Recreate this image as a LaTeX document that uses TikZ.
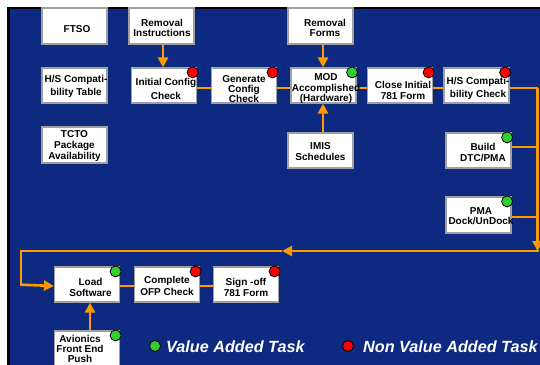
\documentclass[tikz,border=0pt]{standalone}
\usepackage{fontspec}
\setmainfont{Liberation Sans}
\usetikzlibrary{arrows.meta}
\definecolor{bg}{RGB}{14,42,128}
\definecolor{org}{RGB}{255,153,0}
\definecolor{grn}{RGB}{51,204,51}
\definecolor{rd}{RGB}{255,0,0}
\definecolor{bord}{RGB}{160,160,160}
\tikzset{
 box/.style={draw=bord, fill=white, line width=1.2pt, minimum width=65pt, minimum height=35pt, inner sep=0pt},
 lbl/.style={font=\fontsize{10}{#1}\selectfont\bfseries, align=center, inner sep=0pt, text=black},
 lbl/.default=10.5,
 wire/.style={draw=org, line width=2.6pt},
 arr/.style={wire, -{Triangle[length=10pt,width=10pt]}},
 dot/.style={circle, draw=black, line width=0.8pt, minimum size=11pt, inner sep=0pt},
 legend/.style={anchor=west, font=\fontsize{16.2}{17}\selectfont\bfseries\itshape, text=white, inner sep=0pt},
}
\begin{document}
\begin{tikzpicture}[x=1pt,y=-1pt]
\useasboundingbox (0,0) rectangle (540,364);
\fill[white] (0,0) rectangle (540,364);
\draw[fill=bg, draw=black, line width=2.5pt] (8.5,8) rectangle (560,390);

% boxes
\node[box, minimum height=36pt] (ftso) at (74.5,26) {};
\node[box, minimum height=36pt] (ri) at (161.5,26) {};
\node[box] (hst) at (74.5,85.5) {};
\node[box] (icc) at (164,85.5) {};
\node[box] (gcc) at (244,85.5) {};
\node[box, minimum height=36pt] (tcto) at (74.5,145) {};
\node[box, minimum height=36pt] (rf) at (320.5,26) {};
\node[box] (mod) at (323.5,85.5) {};
\node[box] (cif) at (400,85.5) {};
\node[box] (hsc) at (476.5,85.5) {};
\node[box] (imis) at (320.5,150.5) {};
\node[box] (bld) at (478.5,150.5) {};
\node[box, minimum height=36pt] (pma) at (478.5,215) {};
\node[box] (ls) at (87,284.5) {};
\node[box] (cofp) at (167,284.5) {};
\node[box] (so) at (246,284.5) {};
\node[box, minimum height=36pt] (av) at (87,349) {};

% connector corners
\coordinate (cr) at (537.5,88);
\coordinate (cb) at (537.5,251);
\coordinate (cm) at (282,251);
\coordinate (cl) at (21,251);
\coordinate (cd) at (21,286);

% connectors
\draw[arr] (ri.south -| 163,0) -- (icc.north -| 163,0);
\draw[wire] ([yshift=-2.5pt]icc.east) -- ([yshift=-2.5pt]gcc.west);
\draw[wire] ([yshift=-2.5pt]gcc.east) -- ([yshift=-2.5pt]mod.west);
\draw[wire] ([yshift=-2.5pt]mod.east) -- ([yshift=-2.5pt]cif.west);
\draw[wire] ([yshift=-2.5pt]cif.east) -- ([yshift=-2.5pt]hsc.west);
\draw[wire] ([yshift=-2.5pt]hsc.east) -- (cr);
\draw[arr] (cr) -- (cb);
\draw[arr] (rf.south -| 323,0) -- (mod.north -| 323,0);
\draw[arr] (imis.north -| 323,0) -- (mod.south -| 323,0);
\draw[wire] ([yshift=3.5pt]bld.east) -- ([yshift=3.5pt]bld.east -| cr);
\draw[wire] ([yshift=-2pt]pma.east) -- ([yshift=-2pt]pma.east -| cr);
\draw[arr] ([xshift=1.3pt]cb) -- (cm);
\draw[wire] (cm) -- (cl) -- (cd);
\draw[arr] ([yshift=1.3pt]cd) -- ([yshift=-1.5pt]ls.west);
\draw[wire] ([yshift=-1.5pt]ls.east) -- ([yshift=-1.5pt]cofp.west);
\draw[wire] ([yshift=-1.5pt]cofp.east) -- ([yshift=-1.5pt]so.west);
\draw[arr] (av.north -| 90,0) -- (ls.south -| 90,0);

% labels
\node[lbl] (ftso-t) at (77,29) {FTSO};
\node[lbl=10.6] (ri-t) at (162,28) {Removal\\Instructions};
\node[lbl=13] (hst-t) at (76,86.5) {H/S Compati-\\bility Table};
\node[lbl=14] (icc-t) at (166,89) {Initial Config\\Check};
\node[lbl=10.4] (gcc-t) at (244,89) {Generate\\Config\\Check};
\node[lbl=11] (tcto-t) at (74.5,146.5) {TCTO\\Package\\Availability};
\node[lbl=10.4] (rf-t) at (325,28) {Removal\\Forms};
\node[lbl=10.5] (mod-t) at (326,89) {MOD\\Accomplished\\(Hardware)};
\node[lbl=10.2] (cif-t) at (403,90.5) {Close Initial\\781 Form};
\node[lbl=13] (hsc-t) at (478,88) {H/S Compati-\\bility Check};
\node[lbl=11] (imis-t) at (320.5,152) {IMIS\\Schedules};
\node[lbl=10.2] (bld-t) at (483,152.5) {Build\\DTC/PMA};
\node[lbl=10.2] (pma-t) at (481,216.5) {PMA\\Dock/UnDock};
\node[lbl=10.2] (ls-t) at (90.5,287.5) {Load\\Software};
\node[lbl=12] (cofp-t) at (167,285.5) {Complete\\OFP Check};
\node[lbl=11] (so-t) at (246,287) {Sign -off\\781 Form};
\node[lbl=10.3] (av-t) at (80,349) {Avionics\\Front End\\Push};

% dots
\node[dot, fill=rd] (icc-d) at ([xshift=-4.5pt,yshift=-5pt]icc.north east) {};
\node[dot, fill=rd] (gcc-d) at ([xshift=-4.5pt,yshift=-5pt]gcc.north east) {};
\node[dot, fill=grn] (mod-d) at ([xshift=-4.5pt,yshift=-5pt]mod.north east) {};
\node[dot, fill=rd] (cif-d) at ([xshift=-4.5pt,yshift=-5pt]cif.north east) {};
\node[dot, fill=rd] (hsc-d) at ([xshift=-4.5pt,yshift=-5pt]hsc.north east) {};
\node[dot, fill=grn] (bld-d) at ([xshift=-4.5pt,yshift=-5pt]bld.north east) {};
\node[dot, fill=grn] (pma-d) at ([xshift=-4.5pt,yshift=-5pt]pma.north east) {};
\node[dot, fill=grn] (ls-d) at ([xshift=-4.5pt,yshift=-5pt]ls.north east) {};
\node[dot, fill=rd] (cofp-d) at ([xshift=-4.5pt,yshift=-5pt]cofp.north east) {};
\node[dot, fill=rd] (so-d) at ([xshift=-4.5pt,yshift=-5pt]so.north east) {};
\node[dot, fill=grn] (av-d) at ([xshift=-4.5pt,yshift=-5pt]av.north east) {};

% legend
\node[dot, fill=grn] (lg-d) at (155,346) {};
\node[legend] (lg-t) at (166,347) {Value Added Task};
\node[dot, fill=rd] (lr-d) at (348,346) {};
\node[legend] (lr-t) at (363,347) {Non Value Added Task};
\end{tikzpicture}
\end{document}
